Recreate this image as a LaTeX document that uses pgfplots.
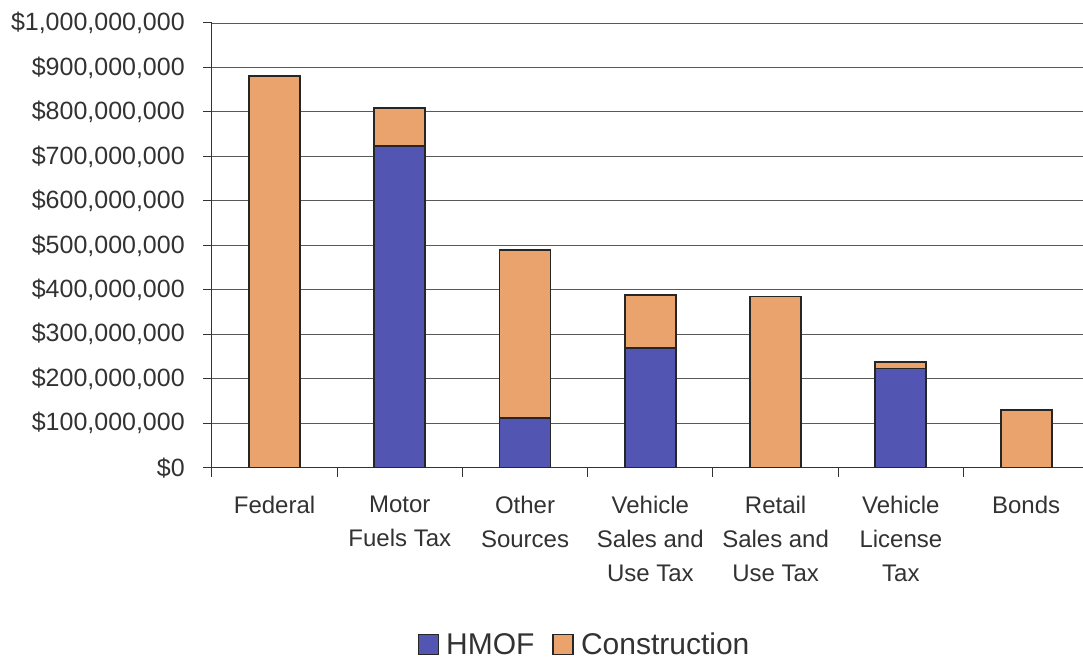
\documentclass[border=0pt]{standalone}
\usepackage{pgfplots}
\pgfplotsset{compat=1.18}
\usepackage{fontspec}
\setmainfont{Liberation Sans}
\definecolor{hmof}{RGB}{82,86,178}
\definecolor{constr}{RGB}{234,163,108}
\definecolor{txt}{RGB}{50,50,50}
\begin{document}
\begin{tikzpicture}
\begin{axis}[
  scale only axis, width=871bp, height=445bp,
  xmin=-0.5, xmax=6.45, ymin=0, ymax=1000000000,
  scaled y ticks=false,
  ybar stacked, bar width=51bp,
  axis x line*=bottom, axis y line*=left,
  axis line style={black!80, line width=1bp},
  tick align=outside,
  xtick={0,1,2,3,4,5,6},
  xticklabels={Federal, Motor\\Fuels Tax, Other\\Sources, Vehicle\\Sales and\\Use Tax, Retail\\Sales and\\Use Tax, Vehicle\\License\\Tax, Bonds},
  x tick label style={align=center, font=\fontsize{24bp}{34bp}\selectfont, text=txt, anchor=north, inner sep=0pt, yshift=-19bp},
  major x tick style={draw=none},
  minor xtick={-0.5,0.5,1.5,2.5,3.5,4.5,5.5},
  minor tick length=9bp,
  minor x tick style={black!80, line width=1bp},
  ytick={0,100000000,200000000,300000000,400000000,500000000,600000000,700000000,800000000,900000000,1000000000},
  yticklabels={{\$0},{\$100,000,000},{\$200,000,000},{\$300,000,000},{\$400,000,000},{\$500,000,000},{\$600,000,000},{\$700,000,000},{\$800,000,000},{\$900,000,000},{\$1,000,000,000}},
  y tick label style={font=\fontsize{25bp}{30bp}\selectfont, text=txt, anchor=east, inner sep=0pt, xshift=-18bp},
  major tick length=9bp,
  major y tick style={black!80, line width=1bp},
  ymajorgrids, major grid style={black!65, line width=0.9bp},
  legend style={at={(0.428,-0.398)}, anchor=center, draw=none, fill=none,
    legend columns=2, font=\fontsize{30bp}{36bp}\selectfont, text=txt,
    /tikz/every even column/.append style={column sep=16bp}},
  legend image code/.code={\draw[#1, line width=1.2bp] (0bp,-10bp) rectangle (20bp,10bp); \path[draw=none,fill=none] (26bp,0bp);},
]
\addplot[fill=hmof, draw=black!85, line width=1.8bp] coordinates {
  (0,0) (1,724000000) (2,112000000) (3,270000000) (4,0) (5,223000000) (6,0)};
\addplot[fill=constr, draw=black!85, line width=1.8bp] coordinates {
  (0,881000000) (1,84000000) (2,378000000) (3,119000000) (4,385000000) (5,14000000) (6,130000000)};
\legend{HMOF, Construction}
\end{axis}
\path ([xshift=-212bp,yshift=-192bp]current axis.south west) rectangle ([yshift=23bp]current axis.north east);
\end{tikzpicture}
\end{document}
